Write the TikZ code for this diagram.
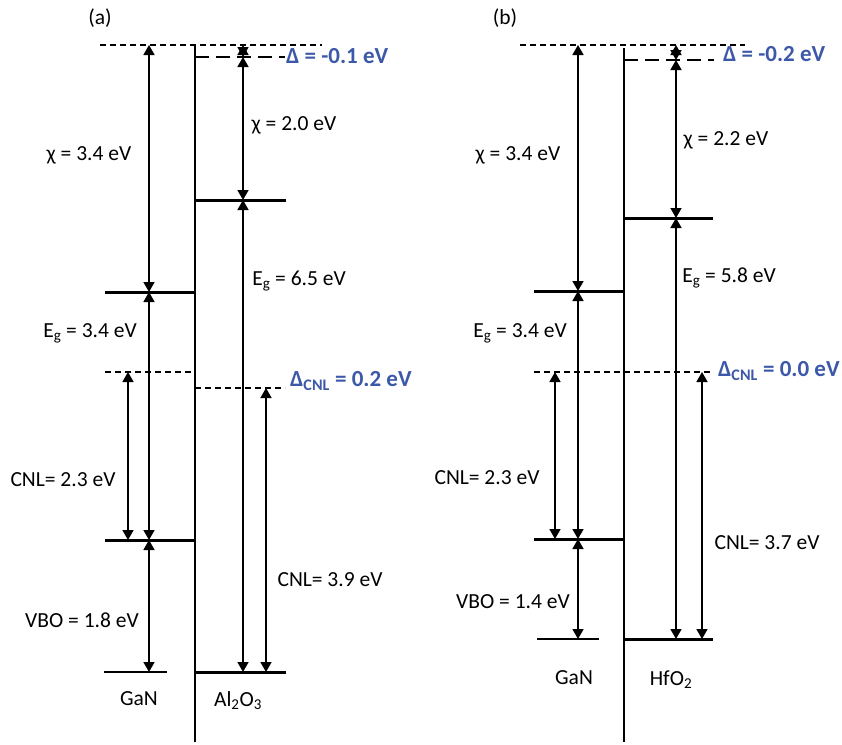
\documentclass[tikz,border=0pt]{standalone}
\usepackage{fontspec}
\setmainfont{Carlito}
\usetikzlibrary{arrows.meta}
\definecolor{dblue}{RGB}{60,88,168}
\begin{document}
\begin{tikzpicture}[x=1pt,y=-1pt,
  level/.style={line width=3pt},
  thinlevel/.style={line width=1.5pt},
  iface/.style={line width=2pt},
  sdash/.style={line width=1.4pt,dash pattern=on 6pt off 4pt},
  ldash/.style={line width=1.6pt,dash pattern=on 14pt off 7pt},
  arr/.style={line width=1.7pt,{Triangle[width=11pt,length=10pt]}-{Triangle[width=11pt,length=10pt]}},
  lbl/.style={font=\fontsize{21.5}{25}\selectfont,inner sep=0pt},
  blbl/.style={font=\fontsize{23}{27}\selectfont\bfseries,text=dblue,inner sep=0pt,anchor=west}]
\useasboundingbox (0,0) rectangle (842,744);
% ---------------- panel (a) ----------------
\node[lbl] (la) at (100,18) {(a)};
\coordinate (aTopL) at (100,45); \coordinate (aTopR) at (322,45);
\coordinate (aIfT) at (195,45); \coordinate (aIfB) at (195,742);
\coordinate (aVacL) at (195,57); \coordinate (aVacR) at (285,57);
\coordinate (aGcbL) at (105,292); \coordinate (aGcbR) at (195,292);
\coordinate (aGvbL) at (105,540); \coordinate (aGvbR) at (195,540);
\coordinate (aGcnlL) at (105,372); \coordinate (aGcnlR) at (195,372);
\coordinate (aOcbL) at (195,200); \coordinate (aOcbR) at (286,200);
\coordinate (aOcnlL) at (195,388); \coordinate (aOcnlR) at (285,388);
\coordinate (aOvbL) at (195,672); \coordinate (aOvbR) at (286,672);
\coordinate (aRefL) at (104,672); \coordinate (aRefR) at (167,672);
\draw[sdash] (aTopL) -- (aTopR);
\draw[iface] (aIfT) -- (aIfB);
\draw[ldash] (aVacL) -- (aVacR);
\draw[level] (aGcbL) -- (aGcbR);
\draw[level] (aGvbL) -- (aGvbR);
\draw[sdash] (aGcnlL) -- (aGcnlR);
\draw[level] (aOcbL) -- (aOcbR);
\draw[sdash] (aOcnlL) -- (aOcnlR);
\draw[level] (aOvbL) -- (aOvbR);
\draw[thinlevel] (aRefL) -- (aRefR);
\coordinate (a1t) at (149,45); \coordinate (a1m) at (149,292);
\coordinate (a1v) at (149,540); \coordinate (a1b) at (149,672);
\draw[arr] (a1t) -- (a1m);
\draw[arr] (a1m) -- (a1v);
\draw[arr] (a1v) -- (a1b);
\coordinate (a2t) at (128,372); \coordinate (a2b) at (128,540);
\draw[arr] (a2t) -- (a2b);
\coordinate (a3t) at (243,45); \coordinate (a3v) at (243,57);
\coordinate (a3c) at (243,200); \coordinate (a3b) at (243,672);
\draw[arr] (a3t) -- (a3v);
\draw[arr] (a3v) -- (a3c);
\draw[arr] (a3c) -- (a3b);
\coordinate (a4t) at (266,388); \coordinate (a4b) at (266,672);
\draw[arr] (a4t) -- (a4b);
\node[lbl] (ta1) at (89,155) {χ = 3.4 eV};
\node[lbl] (ta2) at (294,125) {χ = 2.0 eV};
\node[lbl] (ta3) at (299,281) {E\textsubscript{g} = 6.5 eV};
\node[lbl] (ta4) at (90,333) {E\textsubscript{g} = 3.4 eV};
\node[lbl] (ta5) at (63,480) {CNL= 2.3 eV};
\node[lbl] (ta6) at (330,580) {CNL= 3.9 eV};
\node[lbl] (ta7) at (82,620) {VBO = 1.8 eV};
\node[lbl] (ta8) at (139,699) {GaN};
\node[lbl] (ta9) at (238,701) {Al\textsubscript{2}O\textsubscript{3}};
\node[blbl] (ba1) at (286,56) {Δ = -0.1 eV};
\node[blbl] (ba2) at (290,381) {Δ\textsubscript{CNL} = 0.2 eV};
% ---------------- panel (b) ----------------
\node[lbl] (lb) at (505,18) {(b)};
\coordinate (bTopL) at (520,45); \coordinate (bTopR) at (745,45);
\coordinate (bIfT) at (624,48); \coordinate (bIfB) at (624,742);
\coordinate (bVacL) at (624,60); \coordinate (bVacR) at (714,60);
\coordinate (bGcbL) at (534,291); \coordinate (bGcbR) at (624,291);
\coordinate (bGvbL) at (534,539); \coordinate (bGvbR) at (624,539);
\coordinate (bCnlL) at (534,372); \coordinate (bCnlR) at (713,372);
\coordinate (bOcbL) at (624,218); \coordinate (bOcbR) at (713,218);
\coordinate (bOvbL) at (624,639); \coordinate (bOvbR) at (713,639);
\coordinate (bRefL) at (537,639); \coordinate (bRefR) at (599,639);
\draw[sdash] (bTopL) -- (bTopR);
\draw[iface] (bIfT) -- (bIfB);
\draw[ldash] (bVacL) -- (bVacR);
\draw[level] (bGcbL) -- (bGcbR);
\draw[level] (bGvbL) -- (bGvbR);
\draw[sdash] (bCnlL) -- (bCnlR);
\draw[level] (bOcbL) -- (bOcbR);
\draw[level] (bOvbL) -- (bOvbR);
\draw[thinlevel] (bRefL) -- (bRefR);
\coordinate (b1t) at (578,45); \coordinate (b1m) at (578,291);
\coordinate (b1v) at (578,539); \coordinate (b1b) at (578,639);
\draw[arr] (b1t) -- (b1m);
\draw[arr] (b1m) -- (b1v);
\draw[arr] (b1v) -- (b1b);
\coordinate (b2t) at (555,372); \coordinate (b2b) at (555,539);
\draw[arr] (b2t) -- (b2b);
\coordinate (b3t) at (676,45); \coordinate (b3v) at (676,60);
\coordinate (b3c) at (676,218); \coordinate (b3b) at (676,639);
\draw[arr] (b3t) -- (b3v);
\draw[arr] (b3v) -- (b3c);
\draw[arr] (b3c) -- (b3b);
\coordinate (b4t) at (702,372); \coordinate (b4b) at (702,639);
\draw[arr] (b4t) -- (b4b);
\node[lbl] (tb1) at (518,155) {χ = 3.4 eV};
\node[lbl] (tb2) at (726,140) {χ = 2.2 eV};
\node[lbl] (tb3) at (729,278) {E\textsubscript{g} = 5.8 eV};
\node[lbl] (tb4) at (520,333) {E\textsubscript{g} = 3.4 eV};
\node[lbl] (tb5) at (487,478) {CNL= 2.3 eV};
\node[lbl] (tb6) at (767,543) {CNL= 3.7 eV};
\node[lbl] (tb7) at (513,602) {VBO = 1.4 eV};
\node[lbl] (tb8) at (574,678) {GaN};
\node[lbl] (tb9) at (671,680) {HfO\textsubscript{2}};
\node[blbl] (bb1) at (723,54) {Δ = -0.2 eV};
\node[blbl] (bb2) at (718,371) {Δ\textsubscript{CNL} = 0.0 eV};
\end{tikzpicture}
\end{document}
